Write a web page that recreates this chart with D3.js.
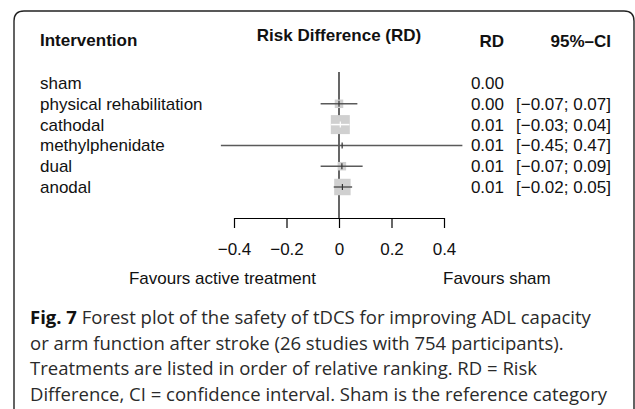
<!DOCTYPE html>
<html>
<head>
<meta charset="utf-8">
<script src="https://cdn.jsdelivr.net/npm/d3@7"></script>
<style>
  body { margin: 0; background: #fff; }
  svg { display: block; }
  .chart text { font-family: "Liberation Sans", Arial, sans-serif; font-size: 17px; fill: #111; }
  .caption text { font-family: "Open Sans", "Noto Sans", sans-serif; font-size: 18.5px; fill: #2a2a2a; }
</style>
</head>
<body>
<svg id="fig" width="635" height="409"></svg>
<script>
// data
const treatments = ["sham", "physical rehabilitation", "cathodal", "methylphenidate", "dual", "anodal"];
const estimates  = [0.00, 0.000, 0.005, 0.012, 0.011, 0.013];
const lowerCI    = [null, -0.07, -0.03, -0.45, -0.07, -0.02];
const upperCI    = [null, 0.07, 0.04, 0.47, 0.09, 0.05];
const weights    = [0, 0.2, 1, 0.01, 0.2, 0.75];   // relative weight -> box area
const rdLabels   = ["0.00", "0.00", "0.01", "0.01", "0.01", "0.01"];
const ciLabels   = ["", "[\u22120.07; 0.07]", "[\u22120.03; 0.04]", "[\u22120.45; 0.47]", "[\u22120.07; 0.09]", "[\u22120.02; 0.05]"];
const xTicks     = [-0.4, -0.2, 0, 0.2, 0.4];
const captionLines = [
  "Forest plot of the safety of tDCS for improving ADL capacity",
  "or arm function after stroke (26 studies with 754 participants).",
  "Treatments are listed in order of relative ranking. RD = Risk",
  "Difference, CI = confidence interval. Sham is the reference category"
];

const svg = d3.select("#fig");

// frame with rounded top corners, open at the bottom
svg.append("path")
    .attr("d", "M14,420 L14,21 Q14,11 24,11 L624,11 Q634,11 634,21 L634,420")
    .attr("fill", "none")
    .attr("stroke", "#222")
    .attr("stroke-width", 1.4);

const chart = svg.append("g").attr("class", "chart");

let x = d3.scaleLinear().domain([-0.4, 0.4]).range([234, 444]);
let y = d3.scalePoint().domain(treatments).range([83, 187]);
let box = d3.scaleSqrt().domain([0, 1]).range([0, 19]);

const axisY = 218;

// headers
chart.append("text").attr("x", 40).attr("y", 46).attr("font-weight", "bold").text("Intervention");
chart.append("text").attr("x", x(0)).attr("y", 41).attr("text-anchor", "middle")
    .attr("font-weight", "bold").text("Risk Difference (RD)");
chart.append("text").attr("x", 504).attr("y", 47).attr("text-anchor", "end")
    .attr("font-weight", "bold").text("RD");
chart.append("text").attr("x", 611).attr("y", 47).attr("text-anchor", "end")
    .attr("font-weight", "bold").text("95%\u2013CI");

// row labels and numbers
treatments.forEach((t, i) => {
  chart.append("text").attr("x", 40).attr("y", y(t) + 6).text(t);
  chart.append("text").attr("x", 504).attr("y", y(t) + 6).attr("text-anchor", "end").text(rdLabels[i]);
  chart.append("text").attr("x", 611).attr("y", y(t) + 6).attr("text-anchor", "end").text(ciLabels[i]);
});

// reference line at zero
chart.append("line")
    .attr("x1", x(0)).attr("x2", x(0))
    .attr("y1", 72).attr("y2", axisY)
    .attr("stroke", "#000").attr("stroke-width", 1.2);

// boxes, CIs and estimate ticks
treatments.forEach((t, i) => {
  if (lowerCI[i] == null) return;
  let s = box(weights[i]);
  let cx = x(estimates[i]);
  let cy = y(t);
  chart.append("rect")
      .attr("x", cx - s / 2).attr("y", cy - s / 2)
      .attr("width", s).attr("height", s)
      .attr("fill", "#d0d0d0");
  // CI drawn white when it fits inside the box
  let inside = x(lowerCI[i]) >= cx - s / 2 && x(upperCI[i]) <= cx + s / 2;
  chart.append("line")
      .attr("x1", x(lowerCI[i])).attr("x2", x(upperCI[i]))
      .attr("y1", cy).attr("y2", cy)
      .attr("stroke", inside ? "#fff" : "#5a5a5a").attr("stroke-width", 1.5);
  chart.append("line")
      .attr("x1", cx).attr("x2", cx)
      .attr("y1", cy - 3).attr("y2", cy + 3)
      .attr("stroke", inside ? "#fff" : "#333").attr("stroke-width", 1.2);
});

// x axis
const axis = chart.append("g")
    .attr("transform", "translate(0," + axisY + ")")
    .call(d3.axisBottom(x).tickValues(xTicks).tickSize(10).tickSizeOuter(0)
      .tickFormat(d => d === 0 ? "0" : d3.format(".1f")(d).replace("-", "\u2212")));
axis.select(".domain").attr("stroke", "#000").attr("stroke-width", 1.2);
axis.selectAll(".tick line").attr("stroke", "#000").attr("stroke-width", 1.2);
axis.selectAll(".tick text")
    .attr("font-family", "Liberation Sans, Arial, sans-serif")
    .attr("font-size", 17).attr("fill", "#111").attr("dy", null).attr("y", 37);

// side labels
chart.append("text").attr("x", 316).attr("y", 284).attr("text-anchor", "end").text("Favours active treatment");
chart.append("text").attr("x", 443).attr("y", 284).text("Favours sham");

// caption
const cap = svg.append("g").attr("class", "caption");
captionLines.forEach((line, i) => {
  let tx = cap.append("text").attr("x", 30).attr("y", 324 + i * 25.5);
  if (i == 0) {
    tx.append("tspan").attr("font-weight", "bold").attr("fill", "#111").text("Fig. 7");
    tx.append("tspan").text(" " + line);
  } else {
    tx.text(line);
  }
});
</script>
</body>
</html>
